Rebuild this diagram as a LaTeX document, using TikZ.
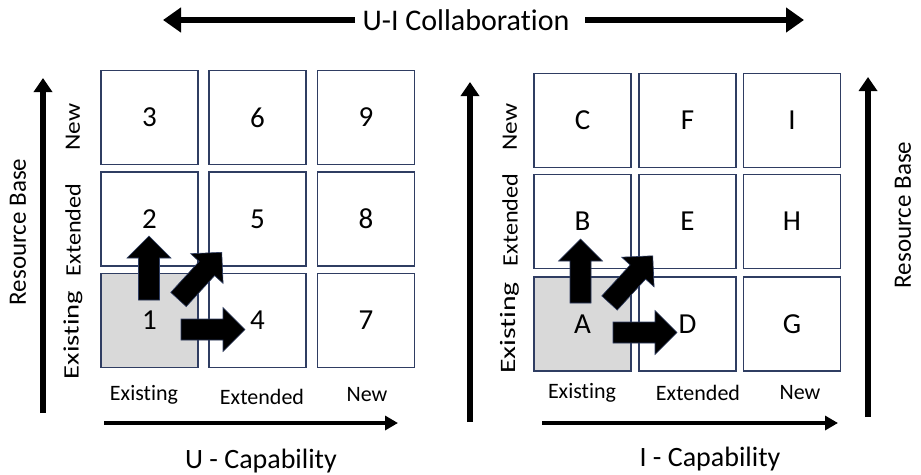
\documentclass[tikz,border=0pt]{standalone}
\usepackage{fontspec}
\setmainfont{Carlito}[Ligatures=NoCommon]
\usetikzlibrary{arrows.meta}
\definecolor{boxline}{HTML}{2F3D62}
\definecolor{cellgray}{HTML}{D9D9D9}
\tikzset{
  cell/.style={draw=boxline, line width=1.6pt, fill=white, minimum width=97pt, minimum height=94pt, inner sep=0pt, font=\fontsize{29}{33}\selectfont},
  startcell/.style={cell, fill=cellgray},
  catlabel/.style={inner sep=0pt, font=\fontsize{22}{26}\selectfont},
  axislabel/.style={inner sep=0pt, font=\fontsize{28}{32}\selectfont},
  sidelabel/.style={inner sep=0pt, rotate=90, font=\fontsize{25}{29}\selectfont},
  rowlabel/.style={inner sep=0pt, rotate=90, font=\fontsize{22}{26}\selectfont},
  axisarrow/.style={line width=4.5pt, -{Triangle[length=13pt,width=14pt]}},
  vertarrow/.style={line width=5.5pt, -{Triangle[length=14pt,width=18pt]}},
  toparrow/.style={line width=6pt, -{Triangle[length=18pt,width=24pt]}},
  blockarrow/.pic={
    \filldraw[fill=black, draw=boxline, line width=0.6pt]
      (0,-10.5) -- (42,-10.5) -- (42,-22) -- (64,0) -- (42,22) -- (42,10.5) -- (0,10.5) -- cycle;
  }
}
\begin{document}
\begin{tikzpicture}[x=1pt, y=-1pt]
\useasboundingbox (0,0) rectangle (921,474);

% left matrix (U side)
\node[cell] (u3) at (149.5,117.5) {3};
\node[cell] (u6) at (257.5,117.5) {6};
\node[cell] (u9) at (366,117.5) {9};
\node[cell] (u2) at (149.5,219) {2};
\node[cell] (u5) at (257.5,219) {5};
\node[cell] (u8) at (366,219) {8};
\node[startcell] (u1) at (149.5,320.5) {1};
\node[cell] (u4) at (257.5,320.5) {4};
\node[cell] (u7) at (366,320.5) {7};

% right matrix (I side)
\node[cell] (iC) at (582.5,120.5) {C};
\node[cell] (iF) at (687.5,120.5) {F};
\node[cell] (iI) at (792,120.5) {I};
\node[cell] (iB) at (582.5,221.5) {B};
\node[cell] (iE) at (687.5,221.5) {E};
\node[cell] (iH) at (792,221.5) {H};
\node[startcell] (iA) at (582.5,324) {A};
\node[cell] (iD) at (687.5,324) {D};
\node[cell] (iG) at (792,324) {G};

% growth arrows out of the starting cell
\pic[rotate=90] at (149,300) {blockarrow};
\pic[rotate=47.5] at (178.5,299.5) {blockarrow};
\pic at (181,329.5) {blockarrow};
\pic[rotate=90] at (580.5,303) {blockarrow};
\pic[rotate=47.5] at (609.5,303) {blockarrow};
\pic at (613,332.5) {blockarrow};

% collaboration arrow
\node[inner sep=0pt, font=\fontsize{30}{34}\selectfont] (collab) at (466,20) {U-I Collaboration};
\coordinate (collabL0) at (355,20);
\coordinate (collabL1) at (163,20);
\coordinate (collabR0) at (585,20);
\coordinate (collabR1) at (804,20);
\draw[toparrow] (collabL0) -- (collabL1);
\draw[toparrow] (collabR0) -- (collabR1);

% vertical resource axes
\coordinate (vL0) at (43,413);
\coordinate (vL1) at (43,78);
\coordinate (vM0) at (470,422);
\coordinate (vM1) at (470,82);
\coordinate (vR0) at (868,417);
\coordinate (vR1) at (868,77);
\draw[vertarrow] (vL0) -- (vL1);
\draw[vertarrow] (vM0) -- (vM1);
\draw[vertarrow] (vR0) -- (vR1);
\node[sidelabel] (rbL) at (18,232) {Resource Base};
\node[sidelabel] (rbR) at (903,215) {Resource Base};

% row labels
\node[rowlabel] (uNew) at (73,127) {\scalebox{1.15}[1]{New}};
\node[rowlabel] (uExt) at (73,230) {\scalebox{1.1}[1]{Extended}};
\node[rowlabel] (uExi) at (73,335) {\scalebox{1.3}[1]{Existing}};
\node[rowlabel] (iNew) at (510,127) {\scalebox{1.15}[1]{New}};
\node[rowlabel] (iExt) at (510,220) {\scalebox{1.1}[1]{Extended}};
\node[rowlabel] (iExi) at (510,328) {\scalebox{1.35}[1]{Existing}};

% column labels
\node[catlabel] (uCexi) at (144,395) {Existing};
\node[catlabel] (uCext) at (262,397) {Extended};
\node[catlabel] (uCnew) at (367,395) {New};
\node[catlabel] (iCexi) at (582,393) {Existing};
\node[catlabel] (iCext) at (698,393) {Extended};
\node[catlabel] (iCnew) at (800,393) {New};

% capability axes
\coordinate (hL0) at (104,423);
\coordinate (hL1) at (398,423);
\coordinate (hR0) at (542,423);
\coordinate (hR1) at (838,423);
\draw[axisarrow] (hL0) -- (hL1);
\draw[axisarrow] (hR0) -- (hR1);
\node[axislabel] (ucap) at (261,461) {U - Capability};
\node[axislabel] (icap) at (710,459) {I - Capability};
\end{tikzpicture}
\end{document}
